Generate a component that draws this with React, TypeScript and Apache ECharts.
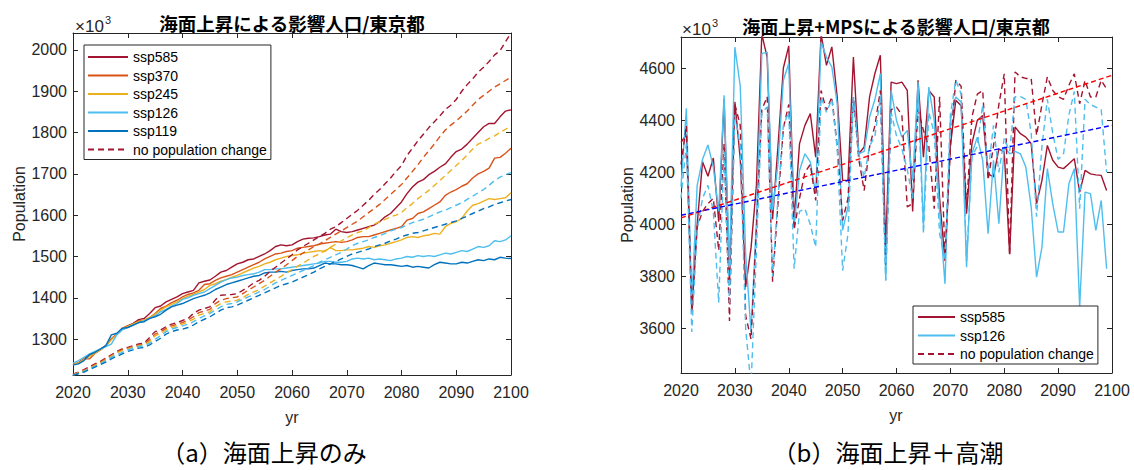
import React, { useEffect, useRef } from "react";
import * as echarts from "echarts";

// ---------- (a) sea-level rise only: 2020..2100 ----------
const yearsA: number[] = Array.from({ length: 81 }, (_, i) => 2020 + i);

const s585 = [1238,1243,1252,1262,1268,1275,1284,1300,1312,1325, 1332,1338,1347,1350,1362,1376,1380,1390,1396,1402, 1410,1414,1418,1436,1440,1443,1452,1462,1466,1474, 1482,1486,1492,1494,1500,1506,1514,1524,1528,1526, 1528,1536,1542,1544,1545,1548,1552,1554,1566,1560, 1558,1560,1564,1568,1572,1576,1584,1596,1604,1618, 1632,1652,1668,1680,1686,1698,1706,1716,1724,1740, 1754,1760,1772,1786,1800,1814,1822,1822,1838,1852, 1855];
const s370 = [1238,1242,1252,1252,1265,1274,1283,1300,1312,1326, 1332,1337,1344,1346,1352,1362,1374,1380,1388,1394, 1402,1408,1412,1418,1432,1434,1442,1448,1452,1456, 1462,1468,1474,1480,1486,1494,1500,1506,1508,1512, 1514,1520,1522,1524,1526,1530,1532,1534,1536,1534, 1536,1540,1546,1548,1548,1552,1556,1560,1564,1568, 1572,1588,1592,1604,1608,1616,1624,1632,1648,1656, 1662,1670,1676,1690,1700,1706,1714,1738,1740,1750, 1762];
const s245 = [1238,1242,1250,1258,1266,1274,1283,1298,1312,1324, 1330,1336,1342,1346,1352,1360,1370,1378,1384,1390, 1398,1404,1408,1414,1420,1430,1434,1440,1444,1450, 1454,1460,1466,1472,1476,1482,1486,1492,1496,1500, 1502,1504,1508,1510,1512,1514,1512,1522,1514,1514, 1516,1516,1518,1520,1524,1522,1526,1528,1532,1536, 1540,1546,1548,1546,1550,1552,1556,1554,1572,1580, 1584,1592,1610,1624,1628,1634,1640,1638,1640,1642, 1654];
const s126 = [1242,1248,1256,1264,1270,1276,1282,1288,1310,1322, 1328,1334,1340,1344,1350,1356,1366,1372,1380,1386, 1396,1400,1406,1410,1414,1422,1430,1438,1444,1448, 1450,1454,1456,1458,1462,1468,1468,1470,1470,1472, 1474,1476,1478,1480,1482,1484,1488,1488,1486,1486, 1488,1494,1496,1494,1496,1492,1494,1492,1490,1494, 1496,1500,1498,1502,1500,1502,1500,1504,1508,1506, 1510,1514,1512,1518,1524,1522,1526,1538,1536,1540, 1550];
const s119 = [1237,1240,1248,1262,1268,1276,1284,1310,1314,1326, 1328,1334,1340,1342,1350,1354,1360,1370,1378,1382, 1386,1392,1398,1402,1406,1412,1420,1426,1432,1436, 1440,1444,1448,1452,1454,1460,1462,1462,1464,1462, 1466,1468,1470,1470,1472,1478,1484,1482,1482,1480, 1480,1478,1474,1470,1478,1484,1482,1480,1480,1478, 1476,1478,1474,1476,1474,1472,1480,1486,1484,1482, 1482,1486,1484,1488,1492,1490,1494,1492,1498,1496, 1495];
const n585 = [1215,1220,1226,1233,1240,1246,1254,1262,1270,1276, 1280,1284,1288,1290,1304,1318,1322,1330,1336,1340, 1345,1350,1362,1370,1374,1378,1395,1406,1407,1408, 1410,1418,1426,1436,1442,1452,1464,1474,1484,1494, 1504,1516,1524,1532,1540,1548,1556,1566,1572,1582, 1592,1602,1612,1624,1636,1650,1662,1676,1690,1706, 1720,1744,1762,1780,1796,1812,1826,1840,1856,1866, 1880,1900,1916,1930,1946,1958,1972,1988,1998,2020, 2041];
const n370 = [1214,1219,1224,1230,1238,1244,1252,1260,1268,1274, 1278,1282,1286,1288,1298,1312,1318,1326,1332,1336, 1340,1346,1354,1364,1368,1372,1386,1394,1398,1400, 1402,1410,1418,1426,1434,1442,1452,1462,1470,1480, 1490,1500,1508,1516,1524,1530,1538,1546,1554,1562, 1570,1578,1586,1596,1606,1616,1626,1638,1650,1662, 1674,1690,1706,1722,1740,1756,1772,1790,1806,1818, 1828,1840,1852,1866,1880,1890,1900,1910,1918,1926, 1934];
const n245 = [1213,1218,1223,1229,1236,1242,1250,1258,1266,1272, 1276,1280,1284,1286,1294,1308,1314,1322,1328,1332, 1336,1342,1348,1358,1362,1366,1378,1386,1390,1392, 1394,1400,1408,1414,1420,1428,1436,1444,1452,1460, 1468,1476,1484,1492,1500,1506,1514,1522,1530,1538, 1545,1552,1558,1562,1570,1578,1584,1590,1596,1600, 1606,1618,1628,1640,1650,1660,1672,1684,1696,1708, 1720,1732,1746,1760,1772,1778,1786,1792,1800,1808, 1816];
const n126 = [1213,1217,1222,1228,1234,1240,1248,1256,1262,1268, 1274,1278,1282,1284,1290,1300,1308,1318,1324,1328, 1332,1336,1342,1350,1356,1362,1370,1378,1384,1386, 1390,1396,1402,1408,1414,1420,1428,1436,1442,1448, 1454,1460,1466,1472,1478,1486,1492,1498,1504,1510, 1518,1526,1532,1536,1540,1546,1550,1556,1562,1566, 1570,1576,1582,1586,1590,1596,1602,1608,1612,1618, 1624,1630,1638,1646,1654,1662,1672,1684,1692,1698, 1703];
const n119 = [1212,1216,1220,1226,1232,1238,1244,1252,1258,1264, 1270,1274,1278,1280,1286,1294,1302,1312,1318,1322, 1324,1328,1334,1342,1348,1354,1362,1370,1376,1378, 1382,1388,1394,1400,1406,1412,1418,1424,1430,1434, 1438,1444,1450,1456,1462,1470,1476,1482,1488,1494, 1500,1506,1510,1514,1518,1524,1528,1532,1538,1542, 1548,1552,1556,1558,1562,1566,1570,1574,1578,1582, 1586,1592,1598,1604,1610,1616,1620,1626,1630,1634, 1638];

// ---------- (b) sea-level rise + storm surge: 2020..2099 ----------
const yearsB: number[] = Array.from({ length: 80 }, (_, i) => 2020 + i);

const r585 = [4315,4345,3670,4000,4240,4185,4255,4010,4480,3780, 4470,4250,3760,3910,4150,4730,4640,4020,4300,4600, 4685,4015,4310,4380,4425,4258,4730,4610,4681,4489, 4169,4169,4642,4271,4297,4489,4580,4649,3913,4546, 4540,4546,4514,4050,4553,4258,4514,4489,4100,3860, 4300,4476,4455,4041,4310,4399,4418,4194,4182,4290, 4278,3887,4374,4348,4335,4310,4079,4169,4303,4246, 4220,4214,4233,4252,4124,4207,4194,4190,4188,4130];
const b126 = [4145,4445,3700,4150,4250,4305,4220,4050,4495,3835, 4680,4530,3887,3587,4015,4655,4661,4054,4233,4553, 4617,3990,4207,4271,4240,4118,4700,4642,4604,4463, 3977,4067,4489,4271,4280,4412,4480,4578,3785,4514, 4399,4335,4361,4169,4546,3990,4527,4400,4050,3772, 4399,4489,4470,3836,4271,4335,4246,3964,4246,4003, 4297,4271,4280,4271,4220,4067,3798,3913,4214,4079, 3971,3971,4156,4214,3683,4124,4118,3977,4092,3830];
const rn585 = [4230,4380,3660,3990,4050,4080,4100,3900,4310,3630, 4460,4380,3650,3560,3980,4440,4490,3780,4080,4370, 4460,3980,4100,4200,4230,4092,4514,4438,4489,4300, 4015,4100,4489,4250,4130,4297,4380,4514,3840,4440, 4450,4420,4067,4080,4440,4361,4300,4060,4490,3870, 4300,4553,4530,4060,4412,4500,4514,4170,4300,4460, 4578,3880,4585,4566,4560,4560,4342,4460,4566,4514, 4490,4480,4534,4578,4463,4553,4489,4489,4553,4520];
const bn126 = [4100,4310,3587,3980,4100,4150,4050,3700,4280,3700, 4420,4300,3600,3380,3900,4430,4450,3800,4100,4380, 4430,3830,4050,4060,4000,3913,4489,4430,4480,4290, 3823,3964,4489,4271,4180,4300,4340,4490,3785,4430, 4340,4290,4210,4100,4505,3964,4430,4350,3964,3862, 4420,4553,4500,3860,4260,4300,4460,4200,4380,4200, 4330,4280,4490,4490,4480,4350,4030,4300,4480,4350, 4250,4270,4420,4510,4060,4480,4460,4450,4440,4200];
const trendYears = [2020, 2100];
const trendRed = [4025, 4572];
const trendBlue = [4035, 4380];

const C585 = "#A2142F";
const C370 = "#D95319";
const C245 = "#EDB120";
const C126 = "#4DBEEE";
const C119 = "#0072BD";
const AX = "#262626";
const SANS = "'Liberation Sans', Arial, sans-serif";
const CJK = "'Noto Sans CJK JP', sans-serif";

const pairs = (ys: number[], vs: number[]) => vs.map((v, i) => [ys[i], v]);

function line(name: string, grid: number, ys: number[], vs: number[], color: string, dashed: boolean, z = 2, dash: number[] = [6, 4]) {
  return {
    name,
    type: "line",
    xAxisIndex: grid * 2,
    yAxisIndex: grid * 2,
    data: pairs(ys, vs),
    symbol: "none",
    showSymbol: false,
    clip: true,
    z,
    itemStyle: { color },
    lineStyle: { color, width: 1.4, type: dashed ? dash : "solid" },
  };
}

function xAx(grid: number, top: boolean) {
  return {
    gridIndex: grid,
    type: "value",
    position: top ? "top" : "bottom",
    min: 2020,
    max: 2100,
    interval: 10,
    axisLine: { show: true, onZero: false, lineStyle: { color: AX, width: 1 } },
    axisTick: { show: true, inside: true, length: 5, lineStyle: { color: AX } },
    axisLabel: { show: !top, color: AX, fontSize: 16, fontFamily: SANS, margin: 9, formatter: (v: number) => String(v) },
    splitLine: { show: false },
  };
}

function yAx(grid: number, right: boolean, min: number, max: number, split: number) {
  return {
    gridIndex: grid,
    type: "value",
    position: right ? "right" : "left",
    min,
    max,
    splitNumber: split,
    axisLine: { show: true, onZero: false, lineStyle: { color: AX, width: 1 } },
    axisTick: { show: true, inside: true, length: 5, lineStyle: { color: AX } },
    axisLabel: {
      show: !right, color: AX, fontSize: 16, fontFamily: SANS, margin: 6,
      showMinLabel: false, showMaxLabel: false, formatter: (v: number) => String(v),
    },
    splitLine: { show: false },
  };
}

function txt(text: string, x: number, y: number, size: number, opts: any = {}) {
  return {
    type: "text",
    x,
    y,
    rotation: opts.rotation || 0,
    z: 100,
    style: {
      text,
      fill: opts.fill || AX,
      fontSize: size,
      fontFamily: opts.family || SANS,
      fontWeight: opts.weight || "normal",
      align: opts.align || "center",
      verticalAlign: "middle",
    },
  };
}

export default function App() {
  const ref = useRef<HTMLDivElement>(null);
  useEffect(() => {
    if (!ref.current) return;
    const chart = echarts.init(ref.current, undefined, { renderer: "svg" });
    const legendCommon = {
      orient: "vertical",
      itemHeight: 14,
      itemGap: 4.5,
      backgroundColor: "#ffffff",
      borderColor: AX,
      borderWidth: 1,
      borderRadius: 0,
      selectedMode: false,
      itemStyle: { opacity: 0, borderWidth: 0 },
      textStyle: { fontSize: 14, fontFamily: SANS, color: "#000" },
      z: 10,
    };
    chart.setOption({
      animation: false,
      backgroundColor: "#ffffff",
      grid: [
        { left: 73, top: 33, width: 438, height: 342 },
        { left: 681, top: 37, width: 431, height: 336 },
      ],
      xAxis: [xAx(0, false), xAx(0, true), xAx(1, false), xAx(1, true)],
      yAxis: [
        yAx(0, false, 1213, 2041, 8),
        yAx(0, true, 1213, 2041, 8),
        yAx(1, false, 3430, 4719, 6),
        yAx(1, true, 3430, 4719, 6),
      ],
      legend: [
        {
          ...legendCommon,
          left: 84,
          top: 45,
          itemWidth: 40,
          padding: [5, 4, 3, 3],
          data: ["ssp585", "ssp370", "ssp245", "ssp126", "ssp119", "no population change"],
        },
        {
          ...legendCommon,
          left: 913,
          top: 306,
          itemWidth: 37,
          padding: [4, 4, 3, 4],
          data: ["ssp585", "ssp126", "no population change"],
        },
      ],
      series: [
        line("ssp585", 0, yearsA, s585, C585, false),
        line("ssp370", 0, yearsA, s370, C370, false),
        line("ssp245", 0, yearsA, s245, C245, false),
        line("ssp126", 0, yearsA, s126, C126, false),
        line("ssp119", 0, yearsA, s119, C119, false),
        line("no population change", 0, yearsA, n585, C585, true),
        line("nc370", 0, yearsA, n370, C370, true),
        line("nc245", 0, yearsA, n245, C245, true),
        line("nc126", 0, yearsA, n126, C126, true),
        line("nc119", 0, yearsA, n119, C119, true),
        line("b585", 1, yearsB, r585, C585, false),
        line("b126", 1, yearsB, b126, C126, false),
        line("bn585", 1, yearsB, rn585, C585, true),
        line("bn126", 1, yearsB, bn126, C126, true),
        line("trendRed", 1, trendYears, trendRed, "#FF0000", true, 3, [5, 3]),
        line("trendBlue", 1, trendYears, trendBlue, "#0000FF", true, 3, [5, 3]),
      ],
      graphic: [
        txt("海面上昇による影響人口/東京都", 292, 23, 18.5, { family: CJK, weight: "bold", fill: "#000" }),
        txt("海面上昇+MPSによる影響人口/東京都", 896, 25.5, 18, { family: CJK, weight: "bold", fill: "#000" }),
        txt("×10", 75, 26, 17, { align: "left" }),
        txt("3", 105, 19.5, 11, { align: "left" }),
        txt("×10", 682, 29, 17, { align: "left" }),
        txt("3", 712, 22.5, 11, { align: "left" }),
        txt("Population", 19, 204, 16, { rotation: Math.PI / 2 }),
        txt("Population", 627, 205, 16, { rotation: Math.PI / 2 }),
        txt("yr", 292, 417, 16),
        txt("yr", 896, 415, 16),
        txt("（a）海面上昇のみ", 264, 451, 24, { family: CJK, fill: "#000" }),
        txt("（b）海面上昇＋高潮", 888, 451, 24, { family: CJK, fill: "#000" }),
      ],
    });
    return () => chart.dispose();
  }, []);
  return <div ref={ref} style={{ position: "absolute", left: 0, top: 0, width: 1134, height: 470 }} />;
}
